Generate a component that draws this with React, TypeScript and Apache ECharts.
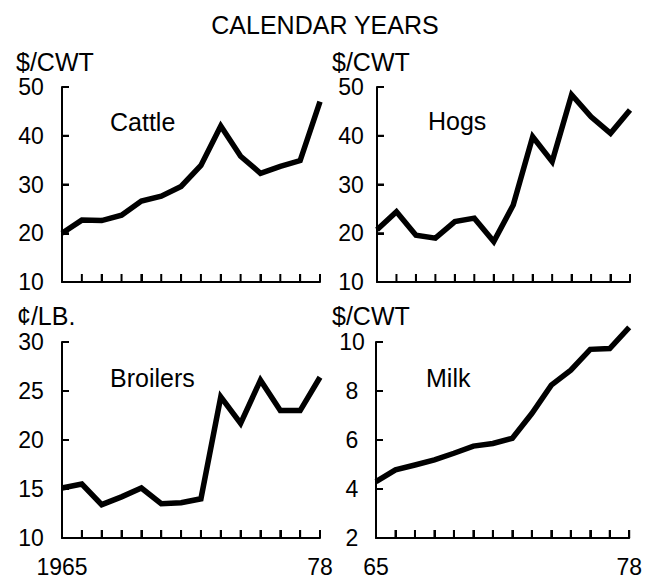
import React, { useEffect, useRef } from "react";
import * as echarts from "echarts";

const years = ["1965","1966","1967","1968","1969","1970","1971","1972","1973","1974","1975","1976","1977","1978"];
const cattle = [20.0, 22.7, 22.6, 23.7, 26.6, 27.6, 29.6, 33.9, 42.0, 35.8, 32.3, 33.7, 34.9, 47.0];
const hogs = [20.7, 24.4, 19.6, 19.0, 22.4, 23.1, 18.3, 25.8, 39.8, 34.7, 48.4, 43.9, 40.5, 45.3];
const broilers = [15.1, 15.5, 13.4, 14.2, 15.1, 13.5, 13.6, 14.0, 24.4, 21.7, 26.1, 23.0, 23.0, 26.4];
const milk = [4.3, 4.78, 4.98, 5.19, 5.46, 5.75, 5.86, 6.07, 7.08, 8.24, 8.85, 9.7, 9.73, 10.6];
const cattleTicks = [10, 20, 30, 40, 50];
const hogsTicks = [10, 20, 30, 40, 50];
const broilersTicks = [10, 15, 20, 25, 30];
const milkTicks = [2, 4, 6, 8, 10];
const panelNames = ["Cattle", "Hogs", "Broilers", "Milk"];
const unitLabels = ["$/CWT", "$/CWT", "¢/LB.", "$/CWT"];
const xLabelsLeft: Record<string, string> = { "1965": "1965", "1978": "78" };
const xLabelsRight: Record<string, string> = { "1965": "65", "1978": "78" };
const titleText = "CALENDAR YEARS";

const FONT = "'Liberation Sans', Arial, Helvetica, sans-serif";

export default function App() {
  const ref = useRef<HTMLDivElement>(null);
  useEffect(() => {
    if (!ref.current) return;
    const chart = echarts.init(ref.current, null, { renderer: "svg" });
    const grids = [
      { left: 62, top: 87, width: 258, height: 195 },
      { left: 377, top: 87, width: 253, height: 195 },
      { left: 62, top: 342, width: 258, height: 196 },
      { left: 376, top: 342, width: 254, height: 196 },
    ];
    const tickSets = [cattleTicks, hogsTicks, broilersTicks, milkTicks];
    const labelMargins = [31, 26, 31, 24];
    const series = [cattle, hogs, broilers, milk];
    const xLabelMaps: (Record<string, string> | null)[] = [null, null, xLabelsLeft, xLabelsRight];

    const lineSeries = series.map((d, i) => ({
      type: "line",
      xAxisIndex: i,
      yAxisIndex: i,
      data: d,
      symbol: "none",
      clip: false,
      z: 3,
      lineStyle: { color: "#000", width: 5.5, join: "miter" },
    }));

    const tickSeries = grids.map((_, i) => ({
      type: "custom",
      xAxisIndex: i,
      yAxisIndex: i,
      silent: true,
      clip: false,
      z: 5,
      encode: { x: 0, y: 1 },
      data: [[0, tickSets[i][0]]],
      renderItem: (params: any, api: any) => {
        const t = tickSets[i];
        const children: any[] = [];
        for (let k = 0; k < years.length; k++) {
          const p = api.coord([k, t[0]]);
          children.push({
            type: "line",
            shape: { x1: p[0], y1: p[1], x2: p[0], y2: p[1] - 8 },
            style: { stroke: "#000", lineWidth: 2 },
          });
        }
        for (let k = 1; k < t.length; k++) {
          const p = api.coord([0, t[k]]);
          children.push({
            type: "line",
            shape: { x1: p[0], y1: p[1], x2: p[0] + 7, y2: p[1] },
            style: { stroke: "#000", lineWidth: 2 },
          });
        }
        return { type: "group", children };
      },
    }));

    const option: any = {
      animation: false,
      backgroundColor: "#ffffff",
      grid: grids.map((g) => ({ ...g })),
      xAxis: grids.map((_, i) => ({
        type: "category",
        gridIndex: i,
        data: years,
        boundaryGap: false,
        axisLine: { show: true, lineStyle: { color: "#000", width: 2 } },
        axisTick: { show: true, inside: true, length: 8, lineStyle: { color: "#000", width: 2 } },
        splitLine: { show: false },
        axisLabel: xLabelMaps[i]
          ? {
              show: true,
              interval: 0,
              margin: 17,
              fontSize: 23,
              fontFamily: FONT,
              color: "#000",
              formatter: (v: string) => (xLabelMaps[i] as Record<string, string>)[v] || "",
            }
          : { show: false },
      })),
      yAxis: grids.map((_, i) => {
        const t = tickSets[i];
        return {
          type: "value",
          gridIndex: i,
          min: t[0],
          max: t[t.length - 1],
          interval: t[1] - t[0],
          axisLine: { show: true, lineStyle: { color: "#000", width: 2 } },
          axisTick: { show: true, inside: true, length: 7, lineStyle: { color: "#000", width: 2 } },
          splitLine: { show: false },
          axisLabel: {
            show: true,
            margin: labelMargins[i],
            align: "center",
            fontSize: 23,
            fontFamily: FONT,
            color: "#000",
          },
        };
      }),
      series: [...lineSeries, ...tickSeries],
      graphic: [
        {
          type: "text",
          x: 325,
          y: 25,
          style: { text: titleText, font: `25px ${FONT}`, fill: "#000", align: "center", verticalAlign: "middle" },
        },
        { type: "text", x: 16, y: 62, style: { text: unitLabels[0], font: `25px ${FONT}`, fill: "#000", verticalAlign: "middle" } },
        { type: "text", x: 332, y: 62, style: { text: unitLabels[1], font: `25px ${FONT}`, fill: "#000", verticalAlign: "middle" } },
        { type: "text", x: 17, y: 316, style: { text: unitLabels[2], font: `25px ${FONT}`, fill: "#000", verticalAlign: "middle" } },
        { type: "text", x: 332, y: 316, style: { text: unitLabels[3], font: `25px ${FONT}`, fill: "#000", verticalAlign: "middle" } },
        { type: "text", x: 110, y: 122, style: { text: panelNames[0], font: `25px ${FONT}`, fill: "#000", verticalAlign: "middle" } },
        { type: "text", x: 428, y: 121, style: { text: panelNames[1], font: `25px ${FONT}`, fill: "#000", verticalAlign: "middle" } },
        { type: "text", x: 110, y: 378, style: { text: panelNames[2], font: `25px ${FONT}`, fill: "#000", verticalAlign: "middle" } },
        { type: "text", x: 426, y: 378, style: { text: panelNames[3], font: `25px ${FONT}`, fill: "#000", verticalAlign: "middle" } },
      ],
    };
    chart.setOption(option);
    return () => chart.dispose();
  }, []);
  return (
    <div
      ref={ref}
      style={{ position: "absolute", left: 0, top: 0, width: 645, height: 584, background: "#fff" }}
    />
  );
}
